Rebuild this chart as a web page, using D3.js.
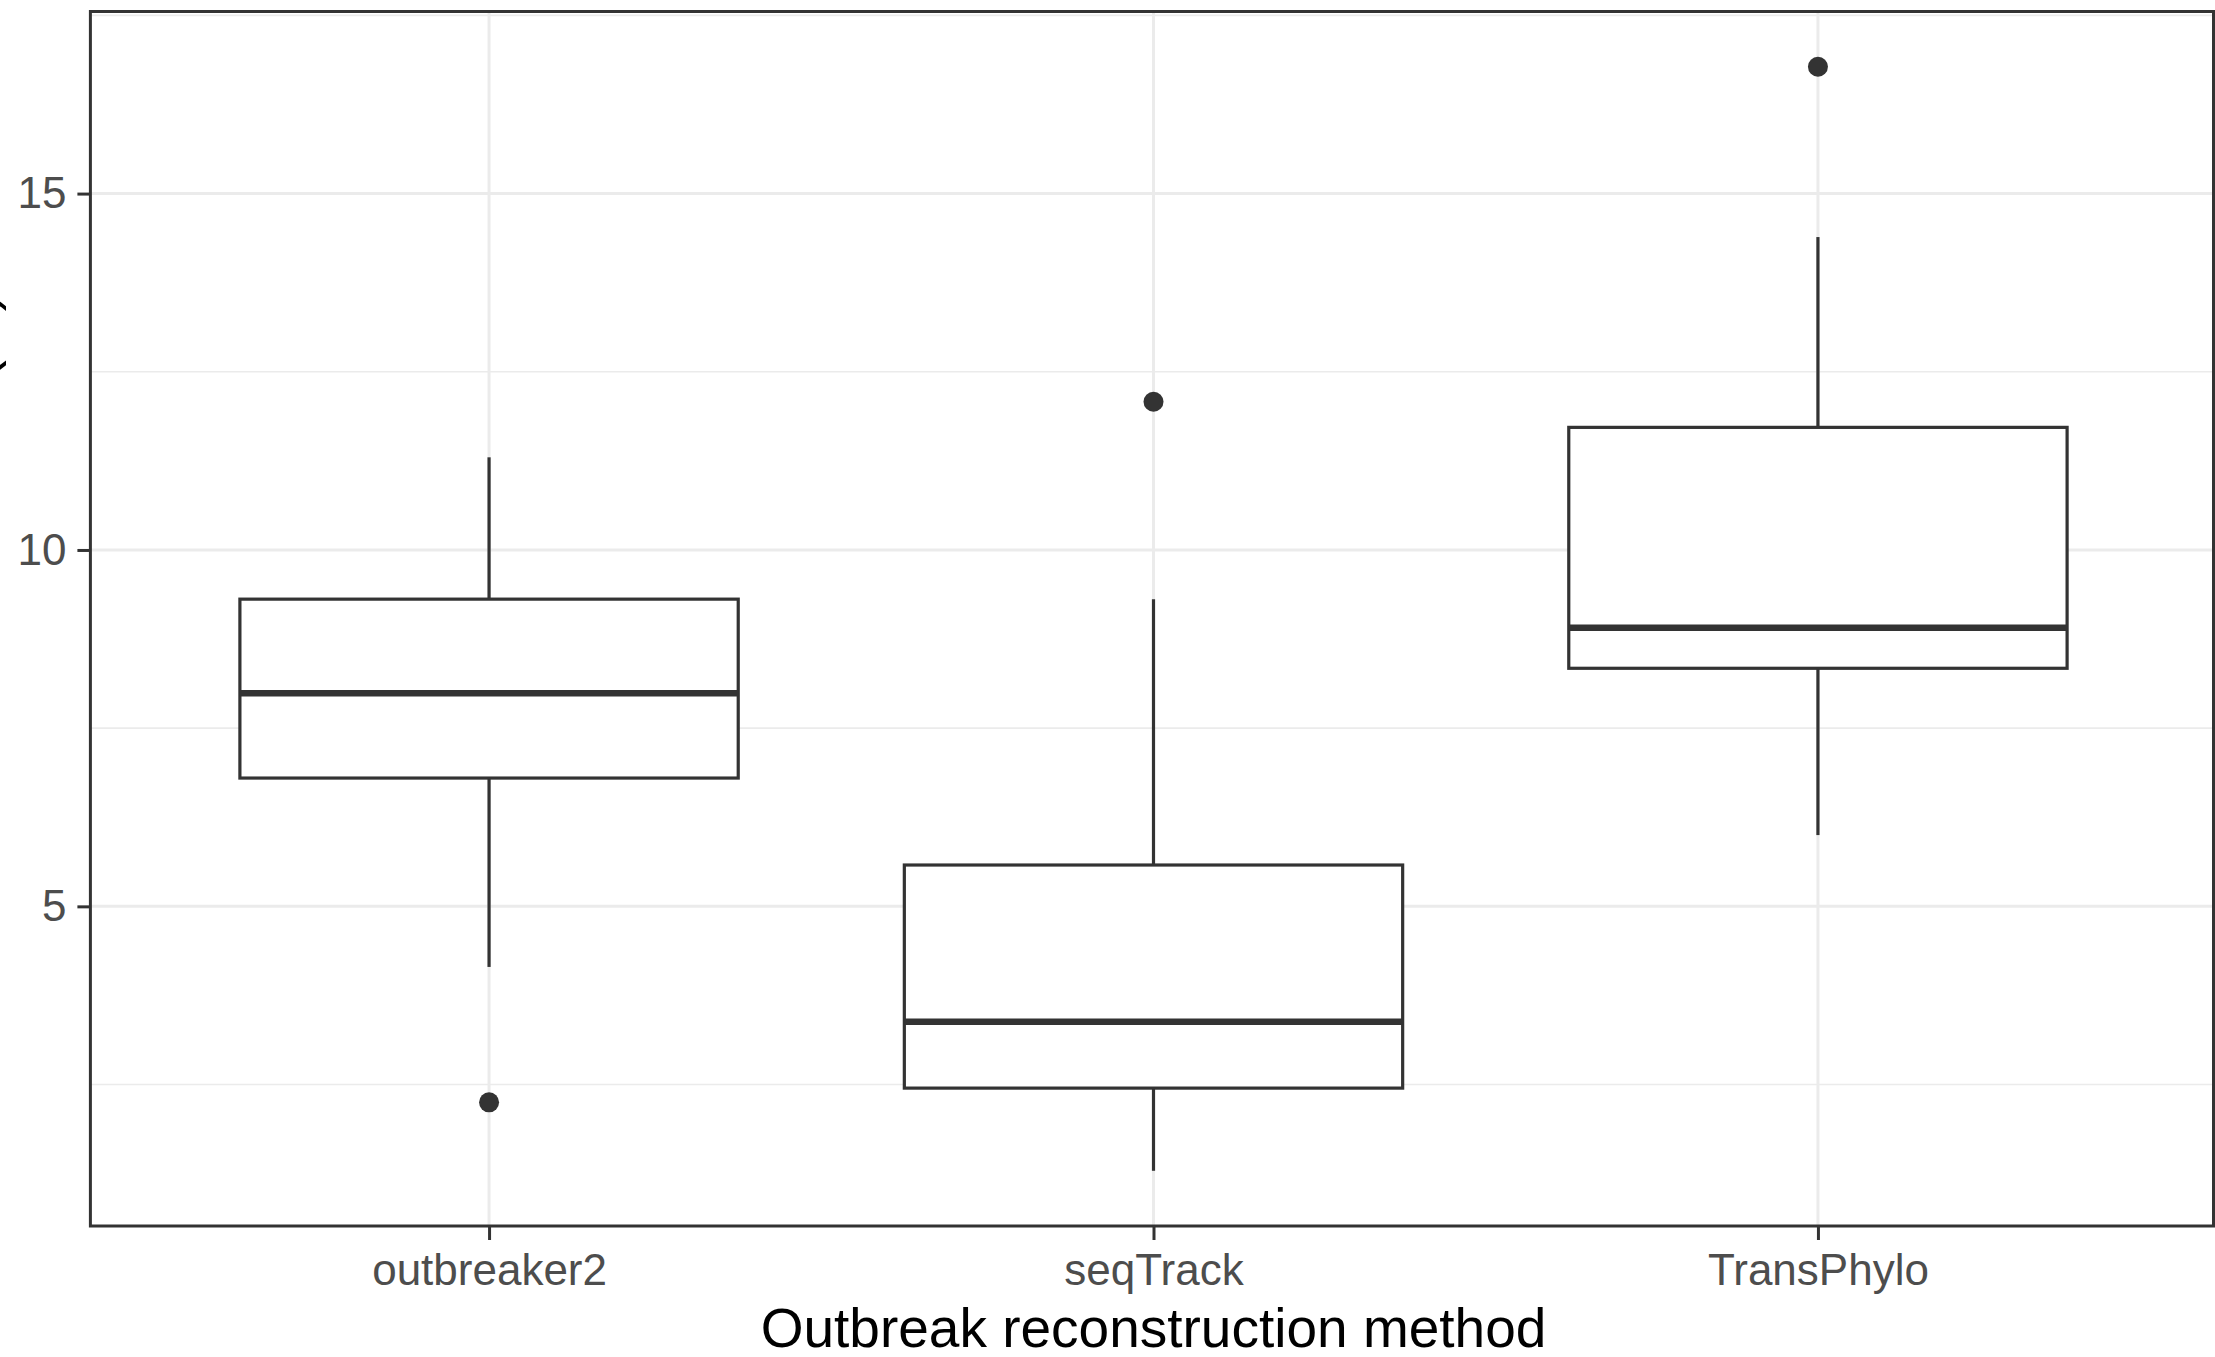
<!DOCTYPE html>
<html>
<head>
<meta charset="utf-8">
<script src="https://cdn.jsdelivr.net/npm/d3@7"></script>
<style>
  body { margin: 0; background: #fff; }
  text { font-family: "Liberation Sans", Arial, sans-serif; }
</style>
</head>
<body>
<div id="chart"></div>
<script>
// box summaries
const methods = ["outbreaker2", "seqTrack", "TransPhylo"];
const whiskerLow = [4.15, 1.29, 6.0];
const q1 = [6.80, 2.45, 8.34];
const median = [7.99, 3.38, 8.91];
const q3 = [9.31, 5.58, 11.72];
const whiskerHigh = [11.30, 9.31, 14.39];
const outliers = [[2.25], [12.08], [16.78]];
const yTicks = [5, 10, 15];
const yMinor = [2.5, 7.5, 12.5, 17.5];

const W = 2215, H = 1357;
const panel = {left: 90.4, top: 11.5, right: 2216.6, bottom: 1226};

const svg = d3.select("#chart").append("svg")
    .attr("width", W).attr("height", H);

svg.append("rect").attr("width", W).attr("height", H).attr("fill", "#fff");

// y domain = data range with 5% expansion (ggplot default)
const allVals = whiskerLow.concat(whiskerHigh, outliers.flat());
const lo = d3.min(allVals), hi = d3.max(allVals);
const pad = (hi - lo) * 0.05;

const y = d3.scaleLinear().domain([lo - pad, hi + pad]).range([panel.bottom, panel.top]);
const x = d3.scalePoint().domain(methods).range([panel.left, panel.right]).padding(0.6);
const boxW = x.step() * 0.75;

const grid = svg.append("g");
grid.selectAll(".minor").data(yMinor.filter(v => y(v) > panel.top)).join("line")
    .attr("x1", panel.left).attr("x2", panel.right)
    .attr("y1", d => y(d)).attr("y2", d => y(d))
    .attr("stroke", "#EBEBEB").attr("stroke-width", 1.6);
grid.selectAll(".major").data(yTicks).join("line")
    .attr("x1", panel.left).attr("x2", panel.right)
    .attr("y1", d => y(d)).attr("y2", d => y(d))
    .attr("stroke", "#EBEBEB").attr("stroke-width", 3);
grid.selectAll(".vmajor").data(methods).join("line")
    .attr("x1", d => x(d)).attr("x2", d => x(d))
    .attr("y1", panel.top).attr("y2", panel.bottom)
    .attr("stroke", "#EBEBEB").attr("stroke-width", 3);

const ink = "#333333";
const boxes = svg.append("g").selectAll("g").data(methods).join("g");

boxes.append("line")
    .attr("x1", d => x(d)).attr("x2", d => x(d))
    .attr("y1", (d, i) => y(q3[i])).attr("y2", (d, i) => y(whiskerHigh[i]))
    .attr("stroke", ink).attr("stroke-width", 3.2);
boxes.append("line")
    .attr("x1", d => x(d)).attr("x2", d => x(d))
    .attr("y1", (d, i) => y(q1[i])).attr("y2", (d, i) => y(whiskerLow[i]))
    .attr("stroke", ink).attr("stroke-width", 3.2);
boxes.append("rect")
    .attr("x", d => x(d) - boxW / 2).attr("width", boxW)
    .attr("y", (d, i) => y(q3[i])).attr("height", (d, i) => y(q1[i]) - y(q3[i]))
    .attr("fill", "#fff").attr("stroke", ink).attr("stroke-width", 3.2);
boxes.append("line")
    .attr("x1", d => x(d) - boxW / 2).attr("x2", d => x(d) + boxW / 2)
    .attr("y1", (d, i) => y(median[i])).attr("y2", (d, i) => y(median[i]))
    .attr("stroke", ink).attr("stroke-width", 6.5);
boxes.selectAll("circle").data((d, i) => outliers[i].map(v => ({m: d, v}))).join("circle")
    .attr("cx", p => x(p.m)).attr("cy", p => y(p.v)).attr("r", 10)
    .attr("fill", ink);

// panel border
svg.append("rect")
    .attr("x", panel.left).attr("y", panel.top)
    .attr("width", 2213.5 - panel.left).attr("height", panel.bottom - panel.top)
    .attr("fill", "none").attr("stroke", ink).attr("stroke-width", 3);

// axes
const yAxis = svg.append("g")
    .attr("transform", `translate(${panel.left},0)`)
    .call(d3.axisLeft(y).tickValues(yTicks).tickSize(13).tickPadding(11));
const xAxis = svg.append("g")
    .attr("transform", `translate(0,${panel.bottom})`)
    .call(d3.axisBottom(x).tickSize(14).tickPadding(14));

[yAxis, xAxis].forEach(a => {
    a.select(".domain").remove();
    a.selectAll(".tick line").attr("stroke", ink).attr("stroke-width", 3);
    a.selectAll(".tick text").attr("fill", "#4D4D4D")
        .style("font-size", "44px").style("font-family", '"Liberation Sans", Arial, sans-serif');
});

svg.append("text")
    .attr("x", (panel.left + panel.right) / 2).attr("y", 1347)
    .attr("text-anchor", "middle").attr("fill", "#000")
    .style("font-size", "55px")
    .text("Outbreak reconstruction method");

// y title, mostly cut off at the left edge
svg.append("text")
    .attr("transform", "translate(-6,293) rotate(-90)")
    .attr("text-anchor", "end").attr("fill", "#000")
    .style("font-size", "55px")
    .text("Correct ancestries (%)");
</script>
</body>
</html>
